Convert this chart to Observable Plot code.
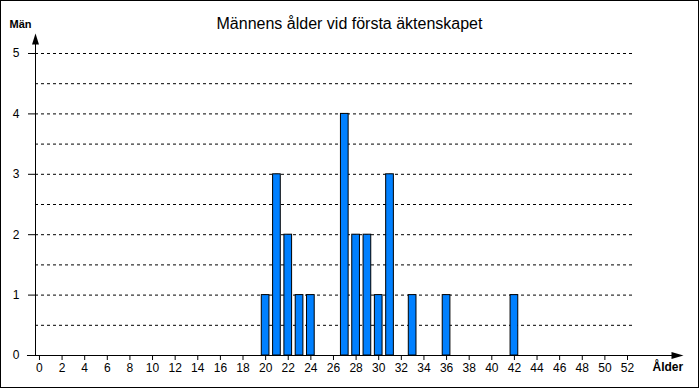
<!DOCTYPE html>
<html>
<head>
<meta charset="utf-8">
<script src="https://cdn.jsdelivr.net/npm/d3@7"></script>
<script src="https://cdn.jsdelivr.net/npm/@observablehq/plot@0.6"></script>
<style>
  body { margin: 0; background: #fff; }
  svg { display: block; outline: 1px solid #000; outline-offset: -1px; }
</style>
</head>
<body>
<div id="chart"></div>
<script>
const title = "Männens ålder vid första äktenskapet";
const yLabel = "Män";
const xLabel = "Ålder";
const ages = [20, 21, 22, 23, 24, 27, 28, 29, 30, 31, 33, 36, 42];
const counts = [1, 3, 2, 1, 1, 4, 2, 2, 1, 3, 1, 1, 1];
const xTicks = [0,2,4,6,8,10,12,14,16,18,20,22,24,26,28,30,32,34,36,38,40,42,44,46,48,50,52];
const yTicks = [0, 1, 2, 3, 4, 5];
const gridLevels = [0.5, 1, 1.5, 2, 2.5, 3, 3.5, 4, 4.5, 5];

const data = ages.map((a, i) => ({age: a, count: counts[i]}));
const half = 0.34;

const upArrow = {draw(ctx) { ctx.moveTo(0, 0); ctx.lineTo(3.5, 11); ctx.lineTo(-3.5, 11); ctx.closePath(); }};
const rightArrow = {draw(ctx) { ctx.moveTo(0, 0); ctx.lineTo(-12, -3.5); ctx.lineTo(-12, 3.5); ctx.closePath(); }};

const chart = Plot.plot({
  width: 699,
  height: 388,
  marginLeft: 35,
  marginRight: 72,
  marginTop: 53,
  marginBottom: 33,
  style: {fontFamily: "Arial, 'Liberation Sans', sans-serif", fontSize: "12px", background: "#fff", color: "#000"},
  x: {domain: [-0.35, 52], axis: null},
  y: {domain: [0, 5], axis: null},
  marks: [
    Plot.ruleY(gridLevels, {x1: -0.35, x2: 52.5, stroke: "#000", strokeDasharray: "3,3", strokeWidth: 1}),
    Plot.rectY(data, {x1: d => d.age - half, x2: d => d.age + half, y1: 0, y2: "count", fill: "#0080ff", stroke: "#000", strokeWidth: 1}),
    Plot.axisX({ticks: xTicks, tickFormat: "d", tickSize: 5, tickPadding: 3, fontSize: 12, label: null, stroke: "#000"}),
    Plot.axisY({ticks: yTicks, tickFormat: "d", tickSize: 7, tickPadding: 9, fontSize: 12, label: null, stroke: "#000", anchor: "left"}),
    Plot.ruleY([0], {x1: -1.06, x2: 56.2, stroke: "#000", strokeWidth: 1}),
    Plot.ruleX([-0.35], {y1: 0, y2: 5.15, stroke: "#000", strokeWidth: 1}),
    Plot.dot([[-0.35, 5.33]], {x: d => d[0], y: d => d[1], symbol: upArrow, fill: "#000", stroke: "none"}),
    Plot.dot([[56.95, 0]], {x: d => d[0], y: d => d[1], symbol: rightArrow, fill: "#000", stroke: "none"}),
    Plot.text([title], {frameAnchor: "top", dx: 18, dy: -36, fontSize: 16, fill: "#000"}),
    Plot.text([yLabel], {frameAnchor: "top-left", dx: -26, dy: -33, textAnchor: "start", fontSize: 11, fontWeight: "bold", fill: "#000"}),
    Plot.text([xLabel], {frameAnchor: "bottom-right", dx: 25, dy: 15, textAnchor: "start", fontSize: 12, fontWeight: "bold", fill: "#000"})
  ]
});
document.getElementById("chart").appendChild(chart);
</script>
</body>
</html>
